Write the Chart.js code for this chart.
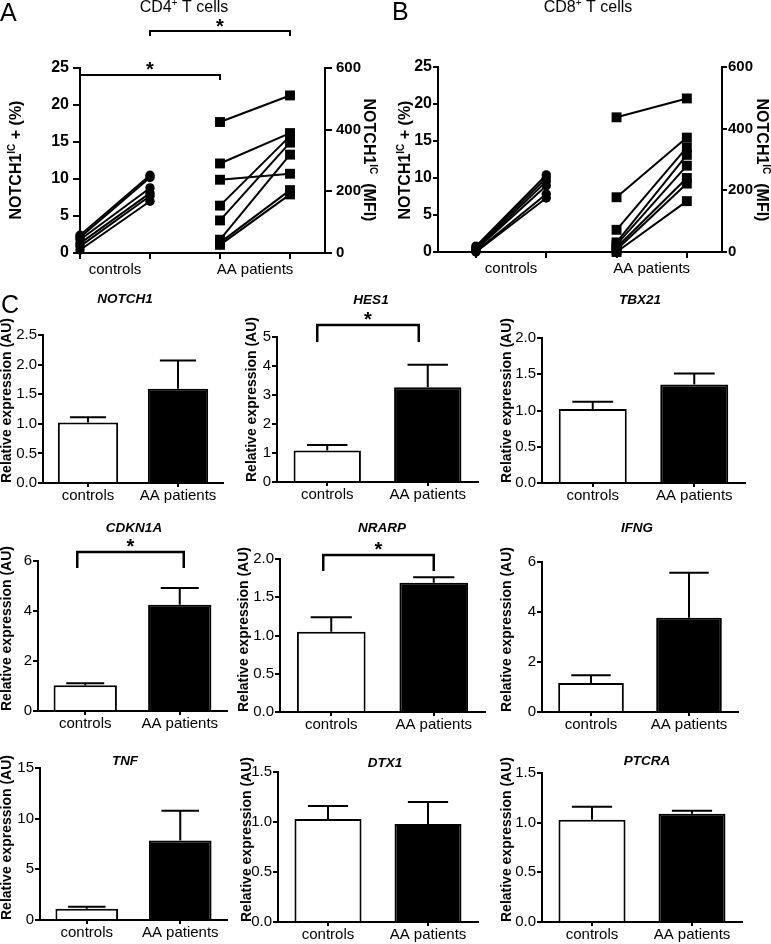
<!DOCTYPE html>
<html>
<head>
<meta charset="utf-8">
<title>NOTCH1 in T cells of AA patients</title>
<script src="https://cdn.jsdelivr.net/npm/chart.js@4.4.1/dist/chart.umd.min.js"></script>
<style>
  body { margin: 0; background: #fff; }
  #fig { position: relative; width: 771px; height: 944px; overflow: hidden; background: #fff; }
  #fig canvas { position: absolute; }
</style>
</head>
<body>
<div id="fig"></div>
<script>
// ---------- data ----------
const groups = ['controls', 'AA patients'];

// x slots in panels A/B: % of controls, MFI of controls, % of patients, MFI of patients
const slotCtrlPct = 0, slotCtrlMfi = 1, slotAAPct = 2, slotAAMfi = 3;

// A: CD4+ T cells, one entry per donor
const cd4CtrlPct = [2.4, 2.1, 1.8, 1.3, 0.9, 0.4];
const cd4CtrlMfi = [252, 245, 211, 194, 185, 168];
const cd4AAPct = [17.7, 12.1, 9.9, 6.4, 4.4, 1.8, 1.4, 1.1];
const cd4AAMfi = [511, 389, 257, 379, 358, 319, 204, 190];

// B: CD8+ T cells
const cd8CtrlPct = [0.8, 0.6, 0.4, 0.3, 0.1, 0.0];
const cd8CtrlMfi = [250, 240, 229, 215, 188, 175];
const cd8AAPct = [18.2, 7.4, 3.0, 1.3, 1.0, 0.6, 0.3, 0.0];
const cd8AAMfi = [498, 371, 339, 315, 280, 240, 222, 165];

const pctMax = 25, pctStep = 5;
const mfiMax = 600, mfiStep = 200;

// C: relative expression (mean, SEM)
const genes    = ['NOTCH1', 'HES1', 'TBX21', 'CDKN1A', 'NRARP', 'IFNG', 'TNF', 'DTX1', 'PTCRA'];
const meanCtrl = [1.02, 1.09, 1.02, 1.03, 1.05, 1.16, 1.12, 1.03, 1.03];
const semCtrl  = [0.09, 0.19, 0.10, 0.08, 0.19, 0.31, 0.18, 0.13, 0.13];
const meanAA   = [1.59, 3.27, 1.36, 4.25, 1.69, 3.77, 7.85, 0.98, 1.09];
const semAA    = [0.48, 0.77, 0.15, 0.67, 0.07, 1.80, 2.93, 0.22, 0.03];
const yMax     = [2.5, 5, 2, 6, 2, 6, 15, 1.5, 1.5];
const yStep    = [0.5, 1, 0.5, 2, 0.5, 2, 5, 0.5, 0.5];

// ---------- setup ----------
const FONT = "'Liberation Sans', Arial, Helvetica, sans-serif";
Chart.defaults.font.family = FONT;
Chart.defaults.color = '#000';
Chart.defaults.animation = false;
Chart.defaults.plugins.legend.display = false;
Chart.defaults.plugins.tooltip.enabled = false;

const fig = document.getElementById('fig');
function addCanvas([left, top, width, height]) {
    const c = document.createElement('canvas');
    c.width = width; c.height = height;
    c.style.left = left + 'px'; c.style.top = top + 'px';
    c.style.width = width + 'px'; c.style.height = height + 'px';
    fig.appendChild(c);
    return c;
}

function drawRich(ctx, t, ox, oy) {
    const fontOf = p => `${p.style || ''} ${p.weight || ''} ${p.size}px ${FONT}`;
    ctx.save();
    ctx.translate(t.x - ox, t.y - oy);
    ctx.rotate(t.rot || 0);
    ctx.textBaseline = 'alphabetic';
    ctx.textAlign = 'left';
    let total = 0;
    for (const p of t.parts) { ctx.font = fontOf(p); total += ctx.measureText(p.t).width; }
    let x = t.align === 'left' ? 0 : -total / 2;
    const base = t.mid ? t.parts[0].size * 0.36 : 0;
    for (const p of t.parts) {
        ctx.font = fontOf(p);
        ctx.fillText(p.t, x, base - (p.rise || 0));
        x += ctx.measureText(p.t).width;
    }
    ctx.restore();
}

// texts, panel letters and significance brackets
const annotate = {
    id: 'annotate',
    afterDraw(chart, args, o) {
        const ctx = chart.ctx;
        const [ox, oy] = o.origin;
        ctx.save();
        ctx.fillStyle = '#000';
        ctx.strokeStyle = '#000';
        for (const b of o.brackets || []) {
            const xs = chart.scales.x;
            const x1 = xs.getPixelForValue(b.from) + (b.dx1 || 0);
            const x2 = xs.getPixelForValue(b.to) + (b.dx2 || 0);
            ctx.lineWidth = b.lw || 2;
            ctx.beginPath();
            ctx.moveTo(x1, b.legY - oy);
            ctx.lineTo(x1, b.y - oy);
            ctx.lineTo(x2, b.y - oy);
            ctx.lineTo(x2, b.legY - oy);
            ctx.stroke();
            ctx.font = 'bold 20px ' + FONT;
            ctx.textAlign = 'center';
            ctx.textBaseline = 'alphabetic';
            ctx.fillText('*', (x1 + x2) / 2, b.starY - oy + 11);
        }
        for (const t of o.texts || []) drawRich(ctx, t, ox, oy);
        ctx.restore();
    }
};

// lines joining each donor's % point to its MFI point
const pairLines = {
    id: 'pairLines',
    beforeDatasetsDraw(chart, args, o) {
        const ctx = chart.ctx;
        ctx.save();
        ctx.strokeStyle = '#000';
        ctx.lineWidth = 2;
        for (const [a, b] of o.pairs || []) {
            const pa = chart.getDatasetMeta(a).data, pb = chart.getDatasetMeta(b).data;
            pa.forEach((el, i) => {
                ctx.beginPath();
                ctx.moveTo(el.x, el.y);
                ctx.lineTo(pb[i].x, pb[i].y);
                ctx.stroke();
            });
        }
        ctx.restore();
    }
};

// upward SEM bars
const errorBars = {
    id: 'errorBars',
    afterDatasetsDraw(chart) {
        const ctx = chart.ctx, ys = chart.scales.y;
        chart.data.datasets.forEach((ds, di) => {
            if (!ds.errors) return;
            chart.getDatasetMeta(di).data.forEach((bar, i) => {
                const top = ys.getPixelForValue(ds.data[i] + ds.errors[i]);
                const half = bar.width * 0.3;
                ctx.save();
                ctx.strokeStyle = '#000';
                ctx.lineWidth = 2;
                ctx.beginPath();
                ctx.moveTo(bar.x, bar.y);
                ctx.lineTo(bar.x, top);
                ctx.moveTo(bar.x - half, top);
                ctx.lineTo(bar.x + half, top);
                ctx.stroke();
                ctx.restore();
            });
        });
    }
};

const axisLine = { color: '#000', width: 2 };
const tickGrid = len => ({ drawOnChartArea: false, tickLength: len, lineWidth: 2, color: '#000' });

function notchTitle(x, tail, rot) {
    return {
        x, y: 160, rot, mid: true,
        parts: [
            { t: 'NOTCH1', size: 16, weight: 'bold' },
            { t: 'IC', size: 10, weight: 'bold', rise: 6 },
            { t: tail, size: 16, weight: 'bold' }
        ]
    };
}

// ---------- panels A and B ----------
function flowPanel(p) {
    const canvas = addCanvas(p.cell);
    const [cl, ct, cw, ch] = p.cell;
    const [L, T, R, B] = p.area;
    const yW = 40, xH = 25;
    const pts = (vals, slot) => vals.map(v => ({ x: slot, y: v }));
    const marker = { backgroundColor: '#000', borderColor: '#000', borderWidth: 0, clip: false };
    new Chart(canvas, {
        type: 'scatter',
        data: {
            datasets: [
                { ...marker, data: pts(p.ctrlPct, slotCtrlPct), yAxisID: 'y', pointStyle: 'circle', pointRadius: 4.7 },
                { ...marker, data: pts(p.ctrlMfi, slotCtrlMfi), yAxisID: 'y2', pointStyle: 'circle', pointRadius: 4.7 },
                { ...marker, data: pts(p.aaPct, slotAAPct), yAxisID: 'y', pointStyle: 'rect', pointRadius: 7 },
                { ...marker, data: pts(p.aaMfi, slotAAMfi), yAxisID: 'y2', pointStyle: 'rect', pointRadius: 7 }
            ]
        },
        options: {
            responsive: false,
            devicePixelRatio: 1,
            layout: { padding: { left: L - cl - yW, right: cl + cw - R - yW, top: T - ct, bottom: ct + ch - B - xH } },
            plugins: {
                pairLines: { pairs: [[0, 1], [2, 3]] },
                annotate: { origin: [cl, ct], texts: p.texts, brackets: p.brackets }
            },
            scales: {
                x: {
                    type: 'linear', min: p.xMin, max: 3.5,
                    afterBuildTicks: s => { s.ticks = [0, 0.5, 1, 2, 2.5, 3].map(v => ({ value: v })); },
                    afterFit: s => { s.height = xH; },
                    ticks: {
                        autoSkip: false, maxRotation: 0, padding: 2, font: { size: 15 },
                        callback: v => v === 0.5 ? groups[0] : (v === 2.5 ? groups[1] : '')
                    },
                    grid: { ...tickGrid(6), tickColor: c => Number.isInteger(c.tick && c.tick.value) ? '#000' : 'rgba(0,0,0,0)' },
                    border: axisLine
                },
                y: {
                    position: 'left', min: 0, max: pctMax,
                    afterFit: s => { s.width = yW; },
                    ticks: { stepSize: pctStep, padding: p.yPad, font: { size: 16, weight: 'bold' } },
                    grid: tickGrid(p.tickLen), border: axisLine
                },
                y2: {
                    position: 'right', min: 0, max: mfiMax,
                    afterFit: s => { s.width = yW; },
                    ticks: { stepSize: mfiStep, padding: p.yPad, font: { size: 15, weight: 'bold' } },
                    grid: tickGrid(p.tickLen), border: axisLine
                }
            }
        },
        plugins: [pairLines, annotate]
    });
}

flowPanel({
    cell: [0, 0, 380, 285], area: [80, 68, 325, 253], xMin: 0, tickLen: 7, yPad: 4,
    ctrlPct: cd4CtrlPct, ctrlMfi: cd4CtrlMfi, aaPct: cd4AAPct, aaMfi: cd4AAMfi,
    texts: [
        { x: 0, y: 21, align: 'left', parts: [{ t: 'A', size: 25 }] },
        { x: 184, y: 12, parts: [{ t: 'CD4', size: 16 }, { t: '+', size: 10, rise: 6 }, { t: ' T cells', size: 16 }] },
        notchTitle(15, ' + (%)', -Math.PI / 2),
        notchTitle(370, '  (MFI)', Math.PI / 2)
    ],
    brackets: [
        { from: slotCtrlPct, to: slotAAPct, y: 75, legY: 80, starY: 65 },
        { from: slotCtrlMfi, to: slotAAMfi, y: 31, legY: 36, starY: 22 }
    ]
});

flowPanel({
    cell: [380, 0, 391, 285], area: [438, 67, 722, 252], xMin: -0.54, tickLen: 5, yPad: 1,
    ctrlPct: cd8CtrlPct, ctrlMfi: cd8CtrlMfi, aaPct: cd8AAPct, aaMfi: cd8AAMfi,
    texts: [
        { x: 392, y: 20, align: 'left', parts: [{ t: 'B', size: 25 }] },
        { x: 588, y: 12, parts: [{ t: 'CD8', size: 16 }, { t: '+', size: 10, rise: 6 }, { t: ' T cells', size: 16 }] },
        notchTitle(404, ' + (%)', -Math.PI / 2),
        notchTitle(763, '  (MFI)', Math.PI / 2)
    ],
    brackets: []
});

// ---------- panel C: nine bar charts ----------
// canvas cell [left, top, width, height], plot area [L, T, R, B] in page pixels
const barLayout = [
    { cell: [-2, 285, 234, 225], area: [43, 335, 223, 483], yTitleX: 7, title: [125, 303], letter: true },
    { cell: [230, 285, 265, 225], area: [277, 337, 478, 482], yTitleX: 252, title: [371, 304],
      bracket: { y: 325, legY: 342, dx1: -10, dx2: -9, starY: 315 } },
    { cell: [495, 285, 276, 225], area: [542, 338, 745, 483], yTitleX: 507, title: [640, 304] },
    { cell: [-2, 510, 234, 225], area: [38, 561, 227, 711], yTitleX: 7, title: [134, 532],
      bracket: { y: 552, legY: 568, dx1: -8, dx2: 4, starY: 542 } },
    { cell: [230, 510, 265, 225], area: [280, 559, 485, 712], yTitleX: 244, title: [382, 532],
      bracket: { y: 555, legY: 571, dx1: -8, dx2: 0, starY: 545 } },
    { cell: [495, 510, 276, 225], area: [542, 562, 738, 712], yTitleX: 507, title: [637, 532] },
    { cell: [-2, 735, 234, 209], area: [40, 768, 227, 920], yTitleX: 7, title: [125, 765] },
    { cell: [230, 735, 265, 209], area: [278, 772, 478, 922], yTitleX: 247, title: [385, 767] },
    { cell: [495, 735, 276, 209], area: [542, 773, 742, 922], yTitleX: 507, title: [647, 765] }
];

const Y_TITLE_SIZE = 14;

genes.forEach((gene, i) => {
    const lay = barLayout[i];
    const canvas = addCanvas(lay.cell);
    const [cl, ct, cw, ch] = lay.cell;
    const [L, T, R, B] = lay.area;
    const scaleLeft = lay.yTitleX - Y_TITLE_SIZE * 1.2 / 2;
    const yW = L - scaleLeft, xH = 20;
    const texts = [{ x: lay.title[0], y: lay.title[1], parts: [{ t: gene, size: 13.5, weight: 'bold', style: 'italic' }] }];
    if (lay.letter) texts.push({ x: 1, y: 313, align: 'left', parts: [{ t: 'C', size: 25 }] });
    const brackets = lay.bracket ? [{ from: 0, to: 1, lw: 2.5, ...lay.bracket }] : [];

    new Chart(canvas, {
        type: 'bar',
        data: {
            labels: groups,
            datasets: [{
                data: [meanCtrl[i], meanAA[i]],
                errors: [semCtrl[i], semAA[i]],
                backgroundColor: ['#fff', '#000'],
                borderColor: '#000',
                borderWidth: 2,
                barPercentage: 0.67,
                categoryPercentage: 1
            }]
        },
        options: {
            responsive: false,
            devicePixelRatio: 1,
            layout: { padding: { left: scaleLeft - cl, right: cl + cw - R, top: T - ct, bottom: ct + ch - B - xH } },
            plugins: { annotate: { origin: [cl, ct], texts, brackets } },
            scales: {
                x: {
                    afterFit: s => { s.height = xH; },
                    ticks: { autoSkip: false, maxRotation: 0, padding: 0, font: { size: 15 } },
                    grid: { ...tickGrid(4), offset: false },
                    border: axisLine
                },
                y: {
                    min: 0, max: yMax[i],
                    afterFit: s => { s.width = yW; },
                    ticks: {
                        stepSize: yStep[i], padding: 1, font: { size: 15 },
                        callback: v => yStep[i] < 1 ? v.toFixed(1) : String(v)
                    },
                    grid: tickGrid(5),
                    border: axisLine,
                    title: {
                        display: true, text: 'Relative expression (AU)', align: 'start', padding: 0,
                        font: { size: Y_TITLE_SIZE, weight: 'bold' }
                    }
                }
            }
        },
        plugins: [errorBars, annotate]
    });
});
</script>
</body>
</html>
